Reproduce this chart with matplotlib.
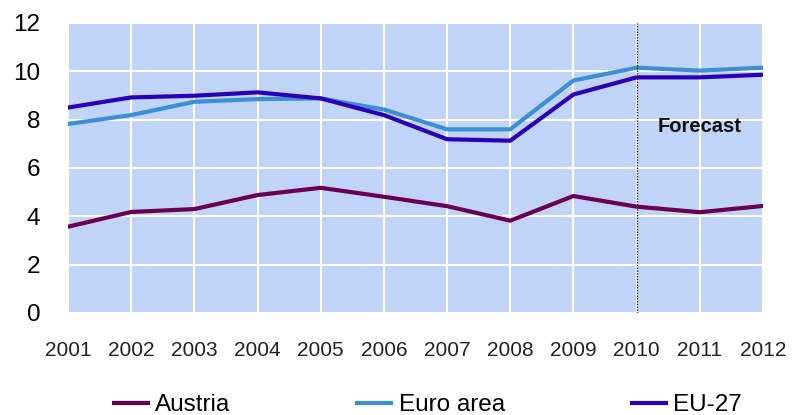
import matplotlib.pyplot as plt

years = list(range(2001, 2013))
austria = [3.57, 4.18, 4.30, 4.88, 5.18, 4.81, 4.42, 3.82, 4.84, 4.40, 4.17, 4.43]
euro_area = [7.82, 8.19, 8.74, 8.85, 8.88, 8.42, 7.60, 7.60, 9.62, 10.15, 10.03, 10.15]
eu27 = [8.50, 8.92, 8.99, 9.13, 8.88, 8.19, 7.19, 7.13, 9.04, 9.75, 9.75, 9.86]

plt.rcParams['font.family'] = ['Liberation Sans', 'DejaVu Sans']

fig = plt.figure(figsize=(7.96, 4.15), dpi=100)
ax = fig.add_axes([0.0854, 0.2458, 0.8731, 0.6988])
ax.set_facecolor('#c0d4f8')

l1, = ax.plot(years, austria, color='#6b0052', lw=3, label='Austria', zorder=3)
l2, = ax.plot(years, euro_area, color='#3c8fd2', lw=3, label='Euro area', zorder=3)
l3, = ax.plot(years, eu27, color='#2c00b8', lw=3, label='EU-27', zorder=3)

# forecast marker
ax.axvline(2010, color='#222222', lw=1, ls=(0, (1, 1)), zorder=4)
ax.text(2011, 7.7, 'Forecast', fontsize=14.5, fontweight='bold', ha='center', va='center',
        color='#111111')

ax.set_xlim(2001, 2012)
ax.set_ylim(0, 12)
ax.set_xticks(years)
ax.set_yticks(range(0, 13, 2))
ax.grid(color='white', lw=1.5, zorder=1)
ax.set_axisbelow(True)
for s in ax.spines.values():
    s.set_visible(False)
ax.tick_params(length=0)
ax.tick_params(axis='x', labelsize=15, pad=20, colors='#222222')
ax.tick_params(axis='y', labelsize=17.5, pad=20)

# legend entries placed individually
for handle, x in [(l1, 0.143), (l2, 0.449), (l3, 0.794)]:
    fig.legend(handles=[handle], loc='center left', bbox_to_anchor=(x, 0.023),
               frameon=False, fontsize=17.5, handlelength=1.4, handletextpad=0.3,
               borderaxespad=0, borderpad=0)

fig.savefig('out.png', dpi=100)
